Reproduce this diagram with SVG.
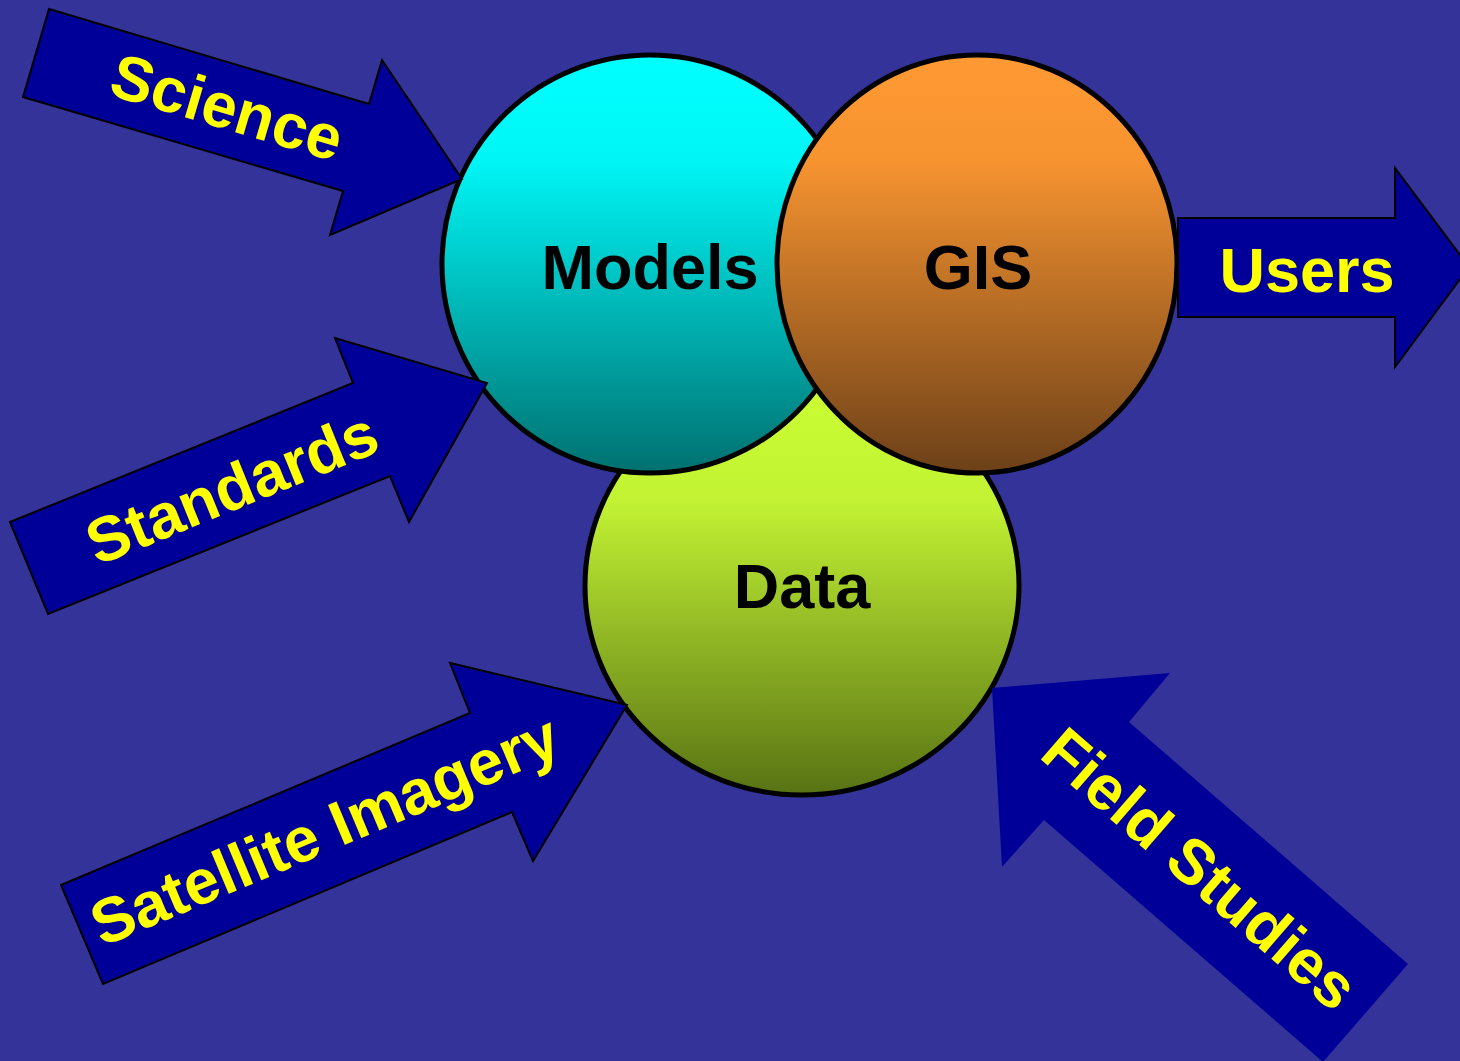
<svg xmlns="http://www.w3.org/2000/svg" width="1460" height="1061" viewBox="0 0 1460 1061">
  <defs>
    <linearGradient id="gModels" x1="0" y1="0" x2="0" y2="1">
      <stop offset="0" stop-color="#00FFFF"/>
      <stop offset="0.25" stop-color="#00F6F6"/>
      <stop offset="1" stop-color="#007070"/>
    </linearGradient>
    <linearGradient id="gGIS" x1="0" y1="0" x2="0" y2="1">
      <stop offset="0" stop-color="#FF9933"/>
      <stop offset="0.25" stop-color="#F79430"/>
      <stop offset="1" stop-color="#6C4018"/>
    </linearGradient>
    <linearGradient id="gData" x1="0" y1="0" x2="0" y2="1">
      <stop offset="0" stop-color="#CCFF33"/>
      <stop offset="0.3" stop-color="#C2F233"/>
      <stop offset="1" stop-color="#587214"/>
    </linearGradient>
    <style>
      .circle { stroke: #000000; stroke-width: 5; }
      .arrow { fill: #000099; stroke: #000000; stroke-width: 2; stroke-linejoin: miter; }
      .noline { stroke: none; }
      .label { font-family: "Liberation Sans", Arial, sans-serif; font-weight: bold; font-size: 63px; text-anchor: middle; }
      .dark { fill: #000000; }
      .yellow { fill: #FFFF00; }
    </style>
  </defs>

  <rect x="0" y="0" width="1460" height="1061" fill="#333399"/>

  <!-- the three overlapping circles -->
  <g id="node-data">
    <ellipse class="circle" cx="802" cy="586" rx="217" ry="209" fill="url(#gData)"/>
    <text class="label dark" x="802" y="608">Data</text>
  </g>
  <g id="node-models">
    <ellipse class="circle" cx="650" cy="264" rx="208" ry="209" fill="url(#gModels)"/>
    <text class="label dark" x="650" y="289">Models</text>
  </g>
  <g id="node-gis">
    <ellipse class="circle" cx="977" cy="264" rx="200" ry="209" fill="url(#gGIS)"/>
    <text class="label dark" x="978" y="289">GIS</text>
  </g>

  <!-- block arrows feeding into / out of the circles -->
  <g id="connectors">
    <g id="arrow-science">
      <polygon class="arrow" points="49,9 369,104 382,60 462,179 330,235 343,191 23,97"/>
      <text class="label yellow" transform="translate(221,128) rotate(16.5)">Science</text>
    </g>
    <g id="arrow-standards">
      <polygon class="arrow" points="10,522 353,383 335,338 487,383 409,522 390,476 48,614"/>
      <text class="label yellow" transform="translate(240,508) rotate(-22.1)">Standards</text>
    </g>
    <g id="arrow-satellite">
      <polygon class="arrow" points="61,885 470,713 450,663 627,705 533,861 512,812 103,984"/>
      <text class="label yellow" transform="translate(333,850) rotate(-22.8)">Satellite Imagery</text>
    </g>
    <g id="arrow-field">
      <polygon class="arrow noline" points="992,688 1170,673 1129,722 1408,964 1323,1062 1044,820 1002,867"/>
      <text class="label yellow" transform="translate(1186,885) rotate(40.9)">Field Studies</text>
    </g>
    <g id="arrow-users">
      <polygon class="arrow" points="1178,218 1395,218 1395,168 1469,267 1395,367 1395,317 1178,317"/>
      <text class="label yellow" x="1307" y="292">Users</text>
    </g>
  </g>
</svg>
